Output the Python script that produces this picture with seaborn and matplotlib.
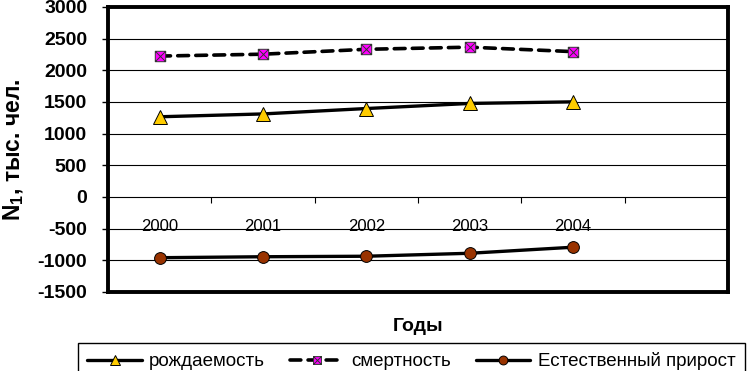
import matplotlib
matplotlib.use("Agg")
import matplotlib.pyplot as plt
from matplotlib.path import Path
from matplotlib.ticker import FixedLocator, MultipleLocator
import seaborn as sns
import pandas as pd
import numpy as np

# data (thousand people)
years = ["2000", "2001", "2002", "2003", "2004"]
births = [1266.8, 1311.6, 1397.0, 1477.3, 1502.5]
deaths = [2225.3, 2254.9, 2332.3, 2365.8, 2295.4]
natural = [-958.5, -943.3, -935.3, -888.5, -792.9]
names = ["рождаемость", "смертность", "Естественный прирост"]
n_slots = 6  # category axis has one empty slot after 2004

sns.set_theme(style="white", rc={"axes.edgecolor": "black", "ytick.color": "black",
                                 "text.color": "black", "axes.labelcolor": "black",
                                 "xtick.color": "black"})
plt.rcParams["font.family"] = ["Liberation Sans", "DejaVu Sans"]
plt.rcParams["axes.unicode_minus"] = False
plt.rcParams["mathtext.fontset"] = "custom"
plt.rcParams["mathtext.rm"] = "Liberation Sans"
plt.rcParams["mathtext.bf"] = "Liberation Sans:bold"

df = pd.DataFrame({"pos": np.arange(len(years)), "year": years,
                   names[0]: births, names[1]: deaths, names[2]: natural})

# square-with-cross marker (Excel style)
box_x = Path(
    [(-1, -1), (1, -1), (1, 1), (-1, 1), (-1, -1), (-1, -1), (1, 1), (-1, 1), (1, -1)],
    [Path.MOVETO, Path.LINETO, Path.LINETO, Path.LINETO, Path.CLOSEPOLY,
     Path.MOVETO, Path.LINETO, Path.MOVETO, Path.LINETO],
)

fig = plt.figure(figsize=(7.52, 3.71), dpi=100)
ax = fig.add_axes([108 / 752, 1 - 292 / 371, 620 / 752, 285 / 371])

sns.lineplot(data=df, x="pos", y=names[0], ax=ax, color="black", lw=2.4,
             marker="^", markersize=10, markerfacecolor="#FFCC00",
             markeredgecolor="black", markeredgewidth=0.7, label=names[0],
             errorbar=None)
sns.lineplot(data=df, x="pos", y=names[1], ax=ax, color="black", lw=2.6,
             linestyle=(0, (3.0, 2.0)), dash_capstyle="round",
             marker=box_x, markersize=7.5, markerfacecolor="#FF00FF",
             markeredgecolor="#333333", markeredgewidth=0.7, label=names[1],
             errorbar=None)
sns.lineplot(data=df, x="pos", y=names[2], ax=ax, color="black", lw=2.4,
             marker="o", markersize=8.5, markerfacecolor="#993300",
             markeredgecolor="black", markeredgewidth=0.7, label=names[2],
             errorbar=None)

ax.set_xlim(-0.5, n_slots - 0.5)
ax.set_ylim(-1500, 3000)
ax.yaxis.set_major_locator(MultipleLocator(500))
ax.yaxis.grid(True, color="black", lw=0.8)
ax.xaxis.grid(False)
ax.set_xticks([])
ax.tick_params(axis="y", left=True, length=4, width=1, pad=11, labelsize=14)
for lbl in ax.get_yticklabels():
    lbl.set_fontweight("bold")
for sp in ax.spines.values():
    sp.set_linewidth(2.8)
    sp.set_color("black")

# category axis crossing at zero
sec = ax.secondary_xaxis(0, transform=ax.transData)
sec.set_xticks(np.arange(len(years)), labels=years)
sec.xaxis.set_minor_locator(FixedLocator(np.arange(-0.5, n_slots, 1.0)))
sec.tick_params(which="major", length=0, pad=16, labelsize=12)
sec.tick_params(which="minor", bottom=True, length=4, width=0.8, color="black")
sec.spines["bottom"].set_visible(False)

ax.set_xlabel("Годы", fontsize=14, fontweight="bold", labelpad=19)
ax.set_ylabel(r"N$_\mathbf{1}$, тыс. чел.", fontsize=16.5, fontweight="bold", labelpad=8)

handles, labels = ax.get_legend_handles_labels()
ax.get_legend().remove()
leg = fig.legend(handles, labels, loc="upper left", bbox_to_anchor=(78 / 752, 1 - 343 / 371),
                 ncol=3, frameon=True, fancybox=False, edgecolor="black", fontsize=13.5,
                 handlelength=2.9, handletextpad=0.4, columnspacing=1.3, markerscale=0.75,
                 borderpad=0.5, borderaxespad=0, framealpha=1)
leg.get_frame().set_linewidth(1)

fig.savefig("out.png", dpi=100)
